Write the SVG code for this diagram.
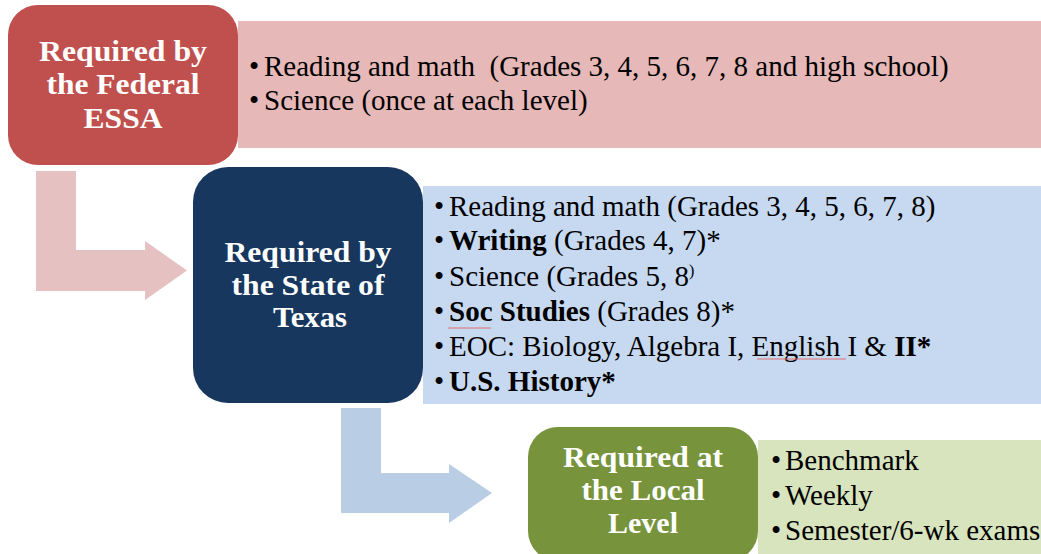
<svg xmlns="http://www.w3.org/2000/svg" width="1041" height="554" viewBox="0 0 1041 554">
<style>
.title{font-family:"Liberation Serif","Times New Roman",serif;font-weight:bold;font-size:30px;fill:#ffffff;text-anchor:middle}
.item{font-family:"Liberation Serif","Times New Roman",serif;font-size:29px;fill:#000000}
.b{font-weight:bold}
.sq{stroke:#e07070;stroke-width:1;fill:none}
</style>
<rect width="1041" height="554" fill="#ffffff"/>
<g id="connectors">
<path d="M36,171 L76,171 L76,250 L145,250 L145,241 L187,270.5 L145,300 L145,291 L36,291 Z" fill="#E5C1C1"/>
<path d="M341,408 L381,408 L381,473 L449,473 L449,464 L492,493 L449,523 L449,513 L341,513 Z" fill="#B9CDE5"/>
</g>
<g id="federal-list">
<rect x="238" y="21" width="803" height="127" fill="#E6B8B7"/>
<text class="item" x="249" y="76">•</text><text class="item" x="264" y="76">Reading and math&#160; (Grades 3, 4, 5, 6, 7, 8 and high school)</text>
<text class="item" x="249" y="110">•</text><text class="item" x="264" y="110">Science (once at each level)</text>
</g>
<g id="federal">
<rect x="8" y="5" width="230" height="160" rx="30" fill="#C0504D"/>
<text class="title" x="123" y="61" textLength="168" lengthAdjust="spacingAndGlyphs">Required by</text>
<text class="title" x="123" y="94" textLength="153" lengthAdjust="spacingAndGlyphs">the Federal</text>
<text class="title" x="123" y="128" textLength="79" lengthAdjust="spacingAndGlyphs">ESSA</text>
</g>
<g id="state-list">
<rect x="423" y="186" width="618" height="218" fill="#C6D9F1"/>
<text class="item" x="434" y="216">•</text><text class="item" x="449" y="216">Reading and math (Grades 3, 4, 5, 6, 7, 8)</text>
<text class="item" x="434" y="250">•</text><text class="item" x="449" y="250"><tspan class="b">Writing</tspan> (Grades 4, 7)*</text>
<text class="item" x="434" y="286">•</text><text class="item" x="449" y="286">Science (Grades 5, 8<tspan font-size="16" dy="-10">)</tspan></text>
<text class="item" x="434" y="321">•</text><text class="item" x="449" y="321"><tspan class="b">Soc Studies</tspan> (Grades 8)*</text>
<text class="item" x="434" y="356">•</text><text class="item" x="449" y="356">EOC: Biology, Algebra I, English I &amp; <tspan class="b">II*</tspan></text>
<text class="item" x="434" y="391">•</text><text class="item b" x="449" y="391">U.S. History*</text>
<path class="sq" d="M448,328 L491,328"/>
<path class="sq" d="M757,359 L846,359"/>
</g>
<g id="state">
<rect x="193" y="167" width="230" height="236" rx="35" fill="#17375E"/>
<text class="title" x="308" y="262" textLength="167" lengthAdjust="spacingAndGlyphs">Required by</text>
<text class="title" x="308" y="295" textLength="153" lengthAdjust="spacingAndGlyphs">the State of</text>
<text class="title" x="310" y="327" textLength="74" lengthAdjust="spacingAndGlyphs">Texas</text>
</g>
<g id="local-list">
<rect x="758" y="440" width="283" height="120" fill="#D7E4BD"/>
<text class="item" x="771" y="470">•</text><text class="item" x="785" y="470">Benchmark</text>
<text class="item" x="771" y="505">•</text><text class="item" x="785" y="505">Weekly</text>
<text class="item" x="771" y="540">•</text><text class="item" x="785" y="540">Semester/6-wk exams</text>
</g>
<g id="local">
<rect x="528" y="427" width="230" height="134" rx="30" fill="#77933C"/>
<text class="title" x="643" y="467" textLength="160" lengthAdjust="spacingAndGlyphs">Required at</text>
<text class="title" x="643" y="500" textLength="123" lengthAdjust="spacingAndGlyphs">the Local</text>
<text class="title" x="643" y="533" textLength="70" lengthAdjust="spacingAndGlyphs">Level</text>
</g>
</svg>
